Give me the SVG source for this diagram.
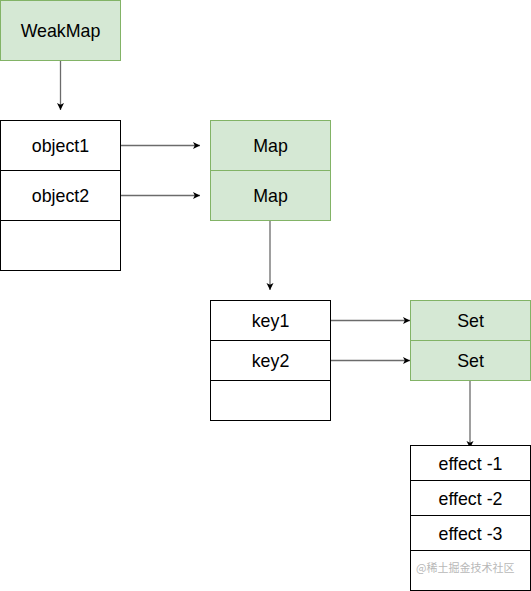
<svg xmlns="http://www.w3.org/2000/svg" width="531" height="591" viewBox="0 0 531 591">
<style>
.g{fill:#d5e8d4;stroke:#82b366;stroke-width:1}
.w{fill:#ffffff;stroke:#000000;stroke-width:1}
.t{font-family:"Liberation Sans",Arial,sans-serif;font-size:17.8px;fill:#000;text-anchor:middle;dominant-baseline:central}
.e{stroke:#6b6b6b;stroke-width:1.3;fill:none;marker-end:url(#ah)}
.wm{font-family:"Noto Sans CJK SC","Liberation Sans",sans-serif;font-size:11px;fill:#b8b8b8}
</style>
<defs>
<marker id="ah" markerWidth="8" markerHeight="8" refX="7" refY="4" orient="auto" markerUnits="userSpaceOnUse">
<path d="M0,0.5 L7,4 L0,7.5 L1.8,4 Z" fill="#000"/>
</marker>
</defs>
<rect width="531" height="591" fill="#fff"/>
<g id="connectors">
<path class="e" d="M60.5,60 L60.5,110"/>
<path class="e" d="M120,145.5 L200,145.5"/>
<path class="e" d="M120,195.5 L200,195.5"/>
<path class="e" d="M270,220 L270,290"/>
<path class="e" d="M330,320.5 L410,320.5"/>
<path class="e" d="M330,360.5 L410,360.5"/>
<path class="e" d="M470,380 L470,448"/>
</g>
<g id="weakmap">
<rect class="g" x="0.5" y="0.5" width="120" height="60"/>
<text class="t" x="60.5" y="31">WeakMap</text>
</g>
<g id="objects">
<rect class="w" x="0.5" y="120.5" width="120" height="50"/>
<text class="t" x="60.5" y="146">object1</text>
<rect class="w" x="0.5" y="170.5" width="120" height="50"/>
<text class="t" x="60.5" y="196">object2</text>
<rect class="w" x="0.5" y="220.5" width="120" height="50"/>
</g>
<g id="maps">
<rect class="g" x="210.5" y="120.5" width="120" height="50"/>
<text class="t" x="270.5" y="146">Map</text>
<rect class="g" x="210.5" y="170.5" width="120" height="50"/>
<text class="t" x="270.5" y="196">Map</text>
</g>
<g id="keys">
<rect class="w" x="210.5" y="300.5" width="120" height="40"/>
<text class="t" x="270.5" y="321">key1</text>
<rect class="w" x="210.5" y="340.5" width="120" height="40"/>
<text class="t" x="270.5" y="361">key2</text>
<rect class="w" x="210.5" y="380.5" width="120" height="40"/>
</g>
<g id="sets">
<rect class="g" x="410.5" y="300.5" width="120" height="40"/>
<text class="t" x="470.5" y="321">Set</text>
<rect class="g" x="410.5" y="340.5" width="120" height="40"/>
<text class="t" x="470.5" y="361">Set</text>
</g>
<g id="effects">
<rect class="w" x="410.5" y="445.5" width="120" height="35"/>
<text class="t" x="470.5" y="464">effect -1</text>
<rect class="w" x="410.5" y="480.5" width="120" height="35"/>
<text class="t" x="470.5" y="499">effect -2</text>
<rect class="w" x="410.5" y="515.5" width="120" height="35"/>
<text class="t" x="470.5" y="534">effect -3</text>
<rect class="w" x="410.5" y="550.5" width="120" height="40"/>
<text class="wm" x="416" y="572">@稀土掘金技术社区</text>
</g>
</svg>
